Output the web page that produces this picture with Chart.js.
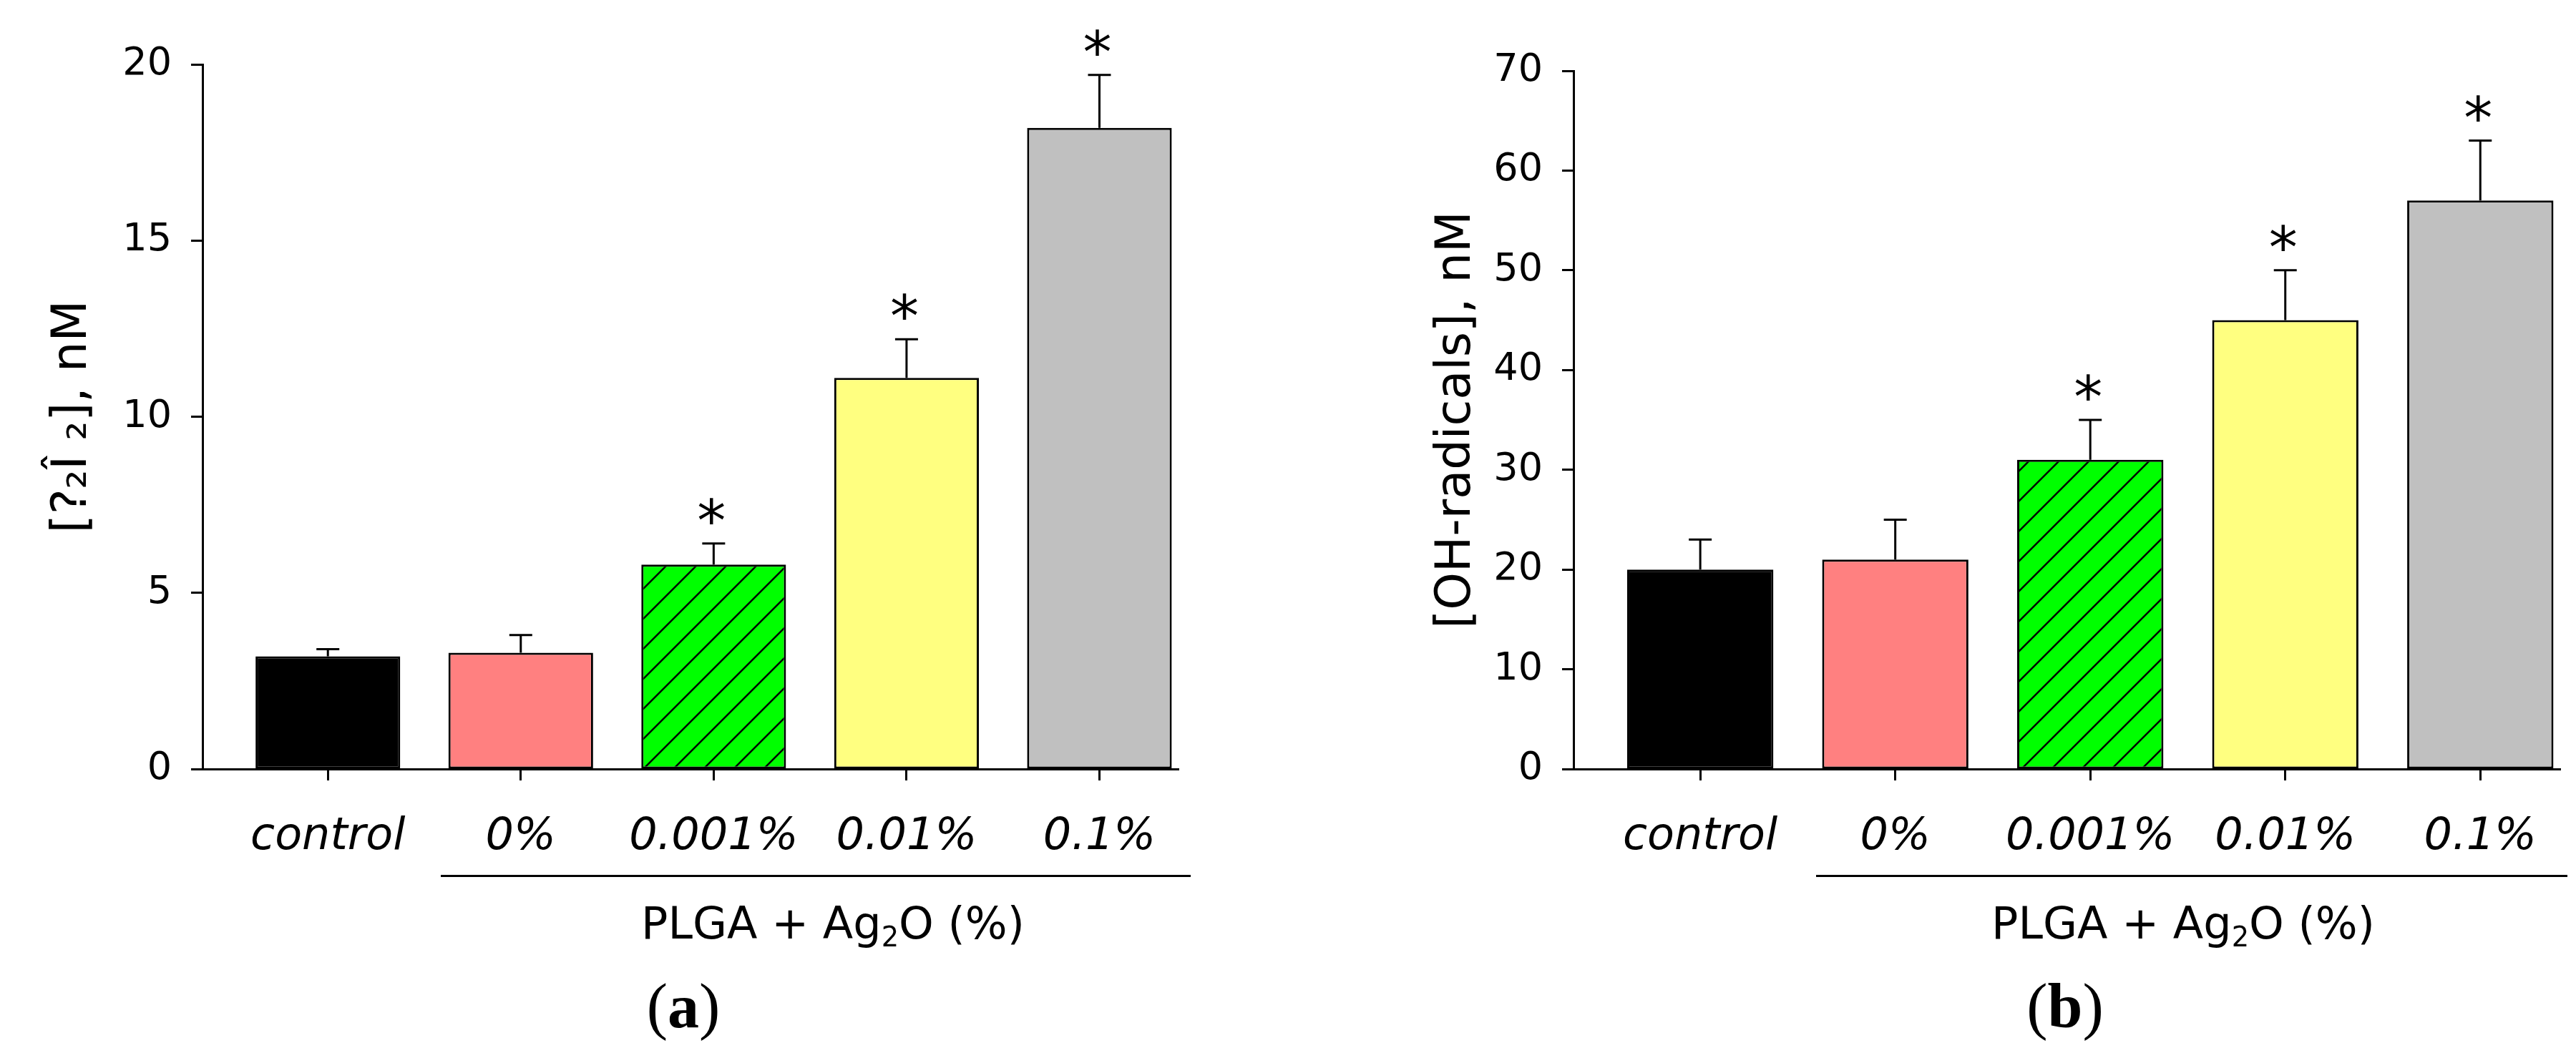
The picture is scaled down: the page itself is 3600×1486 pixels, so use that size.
<!DOCTYPE html>
<html lang="en">
<head>
    <meta charset="UTF-8">
    <title>H2O2 and OH-radicals</title>
    <script src="https://cdn.jsdelivr.net/npm/chart.js"></script>
    <style>
        body {
            margin: 0;
            background: #ffffff;
            width: 3600px;
            height: 1486px;
            position: relative;
            overflow: hidden;
            font-family: "DejaVu Sans", Verdana, sans-serif;
        }
        canvas {
            position: absolute;
            top: 0;
        }
        #chartA { left: 0; }
        #chartB { left: 1800px; }
        .group-line {
            position: absolute;
            top: 1223px;
            height: 0;
            border-top: 3px solid #000;
        }
        .group-label {
            position: absolute;
            top: 1260px;
            width: 800px;
            text-align: center;
            font-size: 62px;
            line-height: 1;
            color: #000;
        }
        .group-label sub {
            font-size: 0.62em;
            vertical-align: -0.28em;
            line-height: 0;
        }
        .panel-letter {
            position: absolute;
            top: 1363px;
            width: 300px;
            text-align: center;
            font-family: "Liberation Serif", "Times New Roman", serif;
            font-size: 88px;
            line-height: 1;
            color: #000;
        }
    </style>
</head>
<body>
    <canvas id="chartA" width="1800" height="1486"></canvas>
    <canvas id="chartB" width="1800" height="1486"></canvas>

    <!-- group bracket lines and labels under the x axes -->
    <div class="group-line" style="left:616px; width:1048px;"></div>
    <div class="group-label" style="left:764px;">PLGA + Ag<sub>2</sub>O (%)</div>
    <div class="panel-letter" style="left:805px;">(<b>a</b>)</div>

    <div class="group-line" style="left:2538px; width:1050px;"></div>
    <div class="group-label" style="left:2651px;">PLGA + Ag<sub>2</sub>O (%)</div>
    <div class="panel-letter" style="left:2736px;">(<b>b</b>)</div>

    <script>
        // Data
        const categories = ['control', '0%', '0.001%', '0.01%', '0.1%'];
        const h2o2Values = [3.2, 3.3, 5.8, 11.1, 18.2];
        const h2o2Errors = [0.2, 0.5, 0.6, 1.1, 1.5];
        const ohValues = [20, 21, 31, 45, 57];
        const ohErrors = [3, 4, 4, 5, 6];
        const significant = [false, false, true, true, true];
        const yTicksA = [0, 5, 10, 15, 20];
        const yTicksB = [0, 10, 20, 30, 40, 50, 60, 70];

        Chart.defaults.font.family = '"DejaVu Sans", Verdana, sans-serif';
        Chart.defaults.color = '#000';

        // green bar with "/" hatching
        function makeHatch() {
            const s = 42;
            const c = document.createElement('canvas');
            c.width = s;
            c.height = s;
            const g = c.getContext('2d');
            g.fillStyle = '#00FF00';
            g.fillRect(0, 0, s, s);
            g.strokeStyle = '#000';
            g.lineWidth = 2.5;
            g.beginPath();
            g.moveTo(0, s); g.lineTo(s, 0);
            g.moveTo(-4, 4); g.lineTo(4, -4);
            g.moveTo(s - 4, s + 4); g.lineTo(s + 4, s - 4);
            g.stroke();
            return g.createPattern(c, 'repeat');
        }

        // error bars (upper only) and significance asterisks
        const errorBarPlugin = {
            id: 'errorBars',
            afterDatasetsDraw(chart, args, opts) {
                const ctx = chart.ctx;
                const yScale = chart.scales.y;
                const meta = chart.getDatasetMeta(0);
                const values = chart.data.datasets[0].data;
                ctx.save();
                ctx.strokeStyle = '#000';
                ctx.fillStyle = '#000';
                ctx.lineWidth = 3;
                meta.data.forEach((bar, i) => {
                    const top = yScale.getPixelForValue(values[i].y + opts.errors[i]);
                    ctx.beginPath();
                    ctx.moveTo(bar.x, bar.y);
                    ctx.lineTo(bar.x, top);
                    ctx.moveTo(bar.x - 16, top);
                    ctx.lineTo(bar.x + 16, top);
                    ctx.stroke();
                    if (significant[i]) {
                        ctx.font = '80px "DejaVu Sans", Verdana, sans-serif';
                        ctx.textAlign = 'center';
                        ctx.textBaseline = 'alphabetic';
                        ctx.fillText('*', bar.x - 3, top - 50 + 46);
                    }
                });
                ctx.restore();
            }
        };

        function makeChart(id, values, errors, yTicks, yMax, yTitle, layout) {
            const ctx = document.getElementById(id).getContext('2d');
            const colors = ['#000000', '#FF8080', makeHatch(), '#FFFF80', '#C0C0C0'];
            return new Chart(ctx, {
                type: 'bar',
                data: {
                    datasets: [{
                        data: values.map((v, i) => ({ x: i, y: v })),
                        backgroundColor: colors,
                        borderColor: '#000',
                        borderWidth: 3,
                        borderSkipped: false,
                        barPercentage: 0.75,
                        categoryPercentage: 1
                    }]
                },
                options: {
                    responsive: false,
                    animation: false,
                    devicePixelRatio: 1,
                    layout: {
                        autoPadding: false,
                        padding: { top: layout.top, right: layout.right, left: 0, bottom: 0 }
                    },
                    plugins: {
                        legend: { display: false },
                        tooltip: { enabled: false },
                        errorBars: { errors: errors }
                    },
                    scales: {
                        x: {
                            type: 'linear',
                            min: -0.65,
                            max: 4.41,
                            offset: false,
                            afterBuildTicks: (scale) => {
                                scale.ticks = categories.map((c, i) => ({ value: i }));
                            },
                            afterFit: (scale) => { scale.height = 1486 - 1075; },
                            ticks: {
                                autoSkip: false,
                                maxRotation: 0,
                                padding: 43,
                                font: { size: 62, style: 'italic' },
                                callback: (v) => categories[v]
                            },
                            grid: {
                                offset: false,
                                drawOnChartArea: false,
                                drawTicks: true,
                                tickLength: 16,
                                tickWidth: 3,
                                tickColor: '#000'
                            },
                            border: { display: true, color: '#000', width: 3 }
                        },
                        y: {
                            min: 0,
                            max: yMax,
                            afterBuildTicks: (scale) => {
                                scale.ticks = yTicks.map(v => ({ value: v }));
                            },
                            afterFit: (scale) => { scale.width = layout.axisX; },
                            ticks: {
                                padding: 27,
                                font: { size: 54 }
                            },
                            grid: {
                                drawOnChartArea: false,
                                drawTicks: true,
                                tickLength: 16,
                                tickWidth: 3,
                                tickColor: '#000'
                            },
                            border: { display: true, color: '#000', width: 3 },
                            title: {
                                display: true,
                                text: yTitle,
                                font: { size: 67 },
                                padding: { top: layout.titlePad, bottom: 0 }
                            }
                        }
                    }
                },
                plugins: [errorBarPlugin]
            });
        }

        makeChart('chartA', h2o2Values, h2o2Errors, yTicksA, 20, '[?\u2082\u00CE \u2082], nM',
            { top: 90, right: 153, axisX: 283, titlePad: 62 });
        makeChart('chartB', ohValues, ohErrors, yTicksB, 70, '[OH-radicals], nM',
            { top: 99, right: 22, axisX: 399, titlePad: 196 });
    </script>
</body>
</html>
